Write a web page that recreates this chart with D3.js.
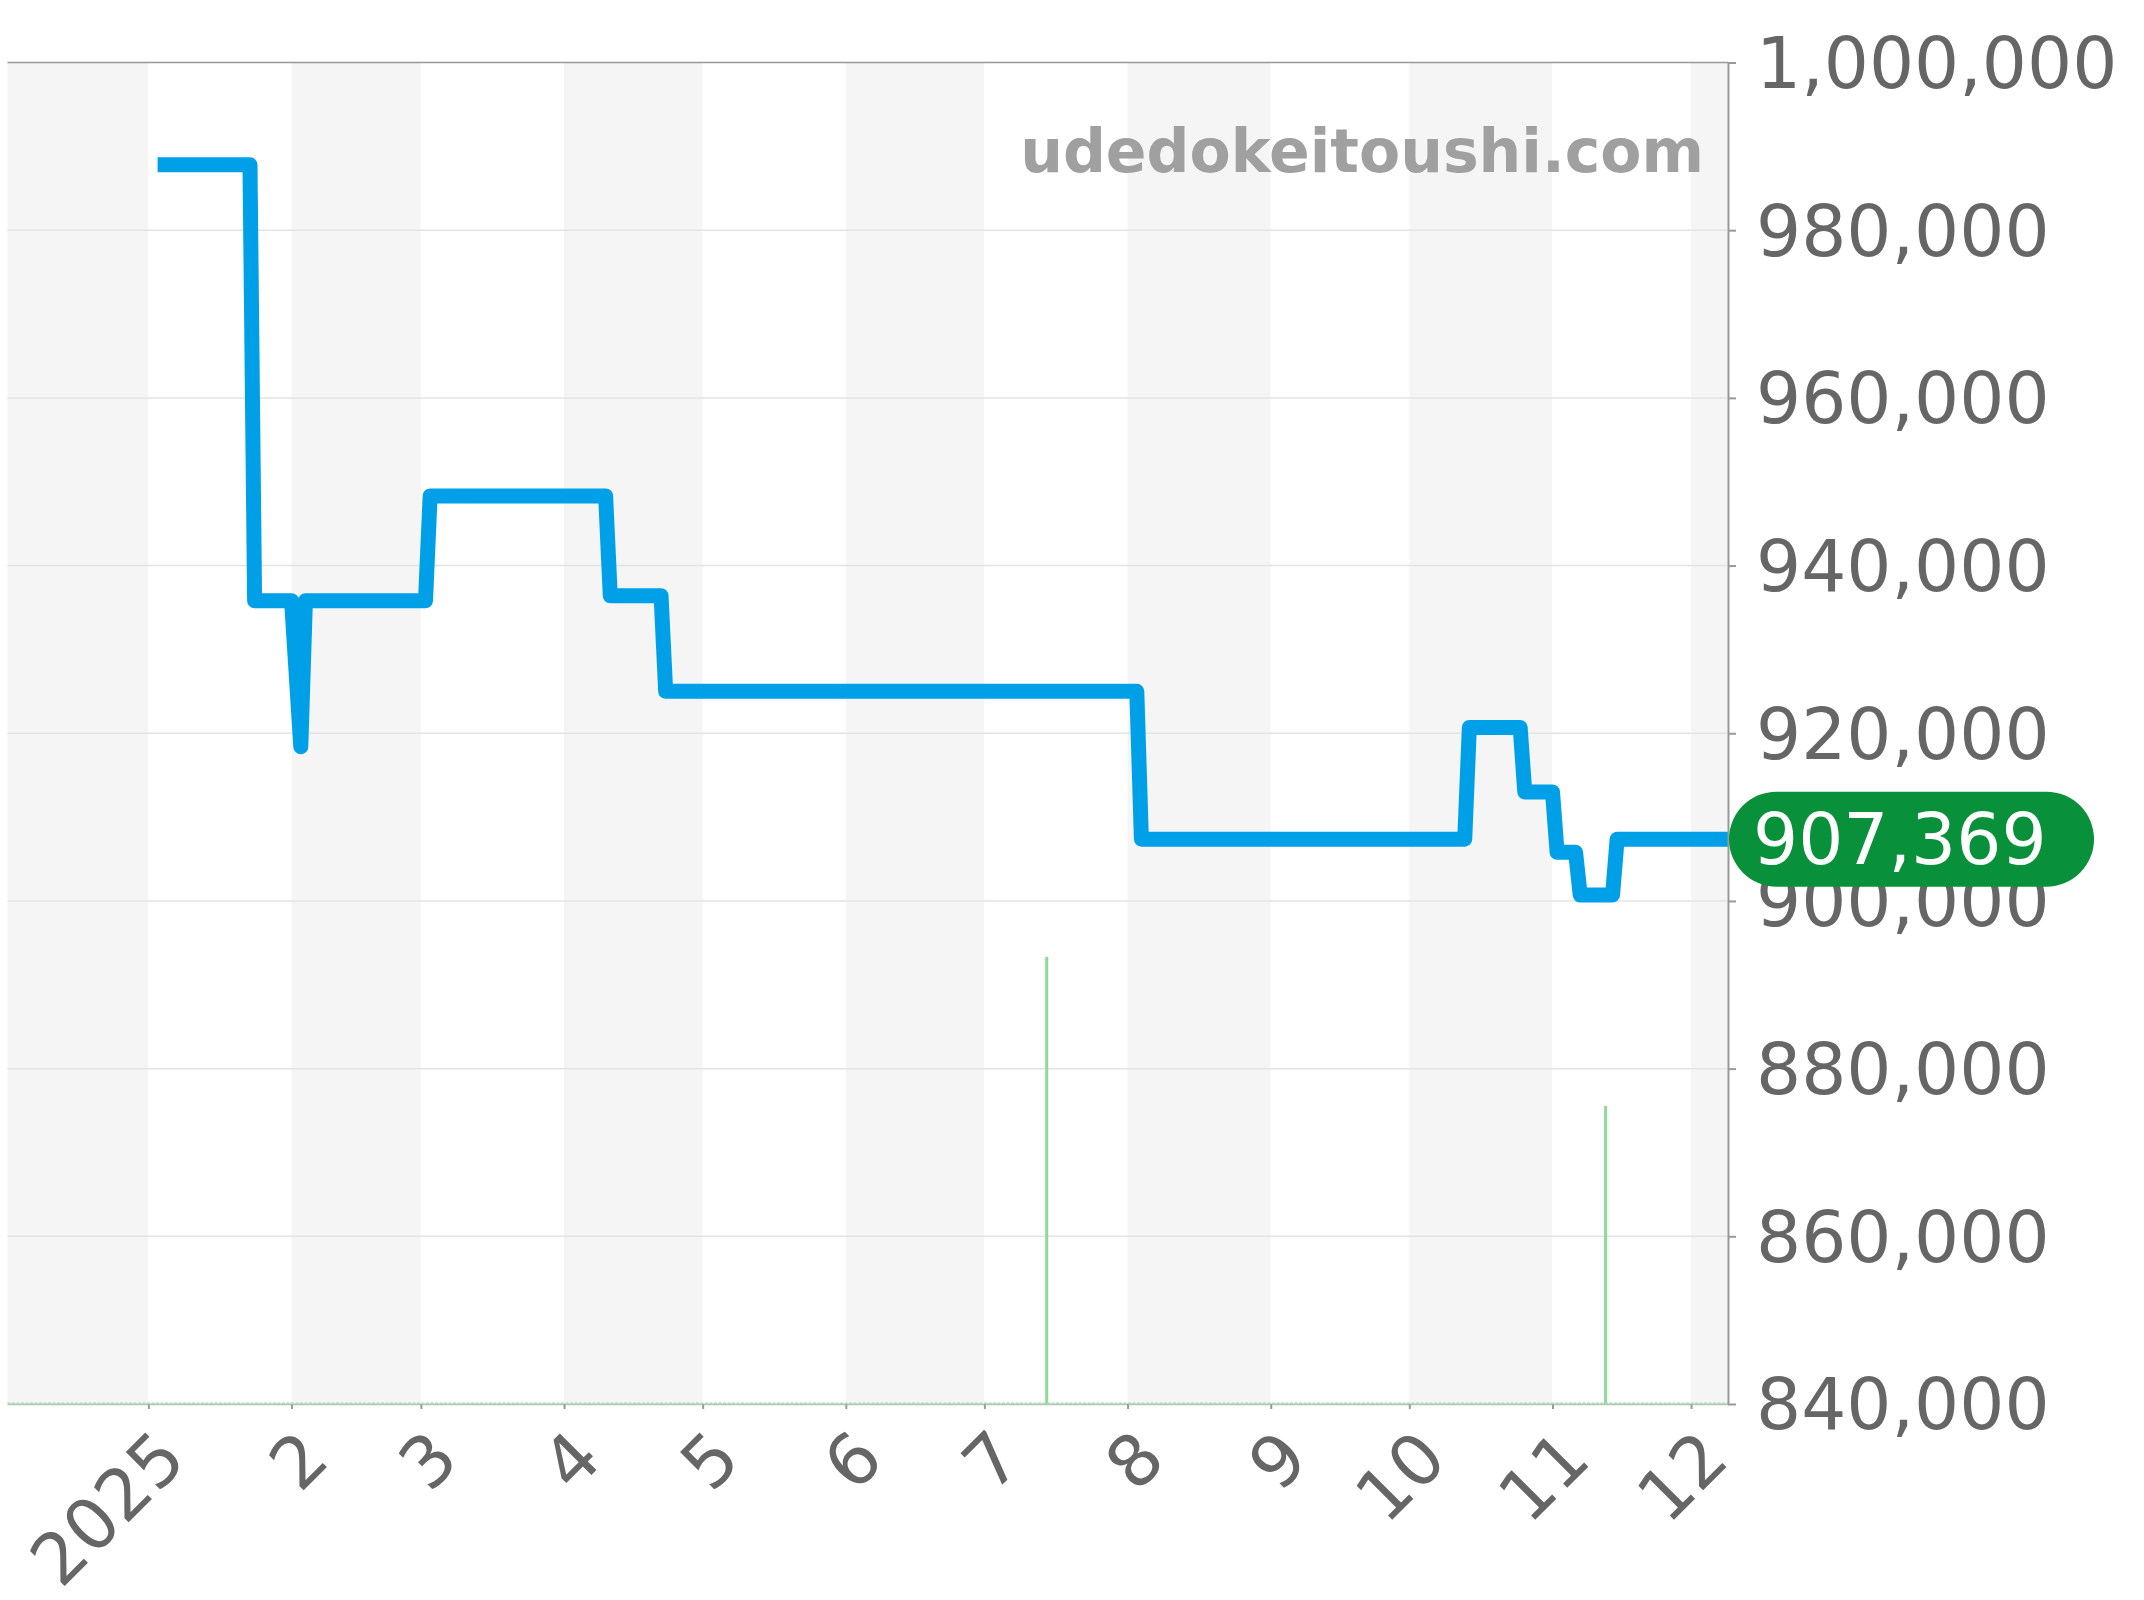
<!DOCTYPE html>
<html>
<head>
<meta charset="utf-8">
<script src="https://cdn.jsdelivr.net/npm/d3@7"></script>
<style>
  body { margin: 0; background: #fff; }
  text { font-family: "DejaVu Sans", sans-serif; }
</style>
</head>
<body>
<svg id="chart" width="2144" height="1600"></svg>
<script>
// price series (step changes)
const priceDates = [
  "2025-01-03", "2025-01-23", "2025-01-24", "2025-02-01", "2025-02-03", "2025-02-04",
  "2025-03-02", "2025-03-03", "2025-04-10", "2025-04-11", "2025-04-22", "2025-04-23",
  "2025-08-03", "2025-08-04", "2025-10-13", "2025-10-14", "2025-10-25", "2025-10-26",
  "2025-11-01", "2025-11-02", "2025-11-06", "2025-11-07", "2025-11-14", "2025-11-15",
  "2025-12-09"
];
const priceValues = [
  987800, 987800, 935800, 935800, 918400, 935800,
  935800, 948300, 948300, 936400, 936400, 925000,
  925000, 907369, 907369, 920700, 920700, 913000,
  913000, 905800, 905800, 900700, 900700, 907369,
  907369
];

// green volume bars
const volumeDates = ["2025-07-14", "2025-11-12"];
const volumeValues = [3, 2];

const yTicks = [840000, 860000, 880000, 900000, 920000, 940000, 960000, 980000, 1000000];
const monthLabels = ["2025", "2", "3", "4", "5", "6", "7", "8", "9", "10", "11", "12"];
const lastPrice = 907369;

const width = 2144, height = 1600;
const plot = { left: 7.5, right: 1728, top: 62.5, bottom: 1404 };

const parse = d3.timeParse("%Y-%m-%d");
const price = priceDates.map((d, i) => ({ date: parse(d), value: priceValues[i] }));
const volume = volumeDates.map((d, i) => ({ date: parse(d), value: volumeValues[i] }));

const x = d3.scaleTime()
  .domain([new Date(2024, 11, 1, 12), new Date(2025, 11, 9)])
  .range([plot.left, plot.right]);
const y = d3.scaleLinear()
  .domain([840000, 1000000])
  .range([plot.bottom, plot.top]);
const y2 = d3.scaleLinear()
  .domain([0, 9])
  .range([plot.bottom, plot.top]);

const svg = d3.select("#chart");

// alternating month bands
const months = d3.timeMonth.range(new Date(2024, 11, 1), new Date(2025, 11, 2));
svg.append("g").attr("class", "bands")
  .selectAll("rect")
  .data(months)
  .enter()
  .append("rect")
  .attr("x", d => Math.max(x(d), plot.left))
  .attr("y", plot.top)
  .attr("width", d => Math.min(x(d3.timeMonth.offset(d, 1)), plot.right) - Math.max(x(d), plot.left))
  .attr("height", plot.bottom - plot.top)
  .attr("fill", d => d.getMonth() % 2 === 1 ? "#f5f5f5" : "#ffffff");

// horizontal grid
svg.append("g").attr("class", "grid")
  .selectAll("line")
  .data(yTicks.slice(0, -1))
  .enter()
  .append("line")
  .attr("x1", plot.left)
  .attr("x2", plot.right)
  .attr("y1", d => y(d))
  .attr("y2", d => y(d))
  .attr("stroke", "#e3e3e3")
  .attr("stroke-width", 1.5);

// top border
svg.append("line")
  .attr("x1", plot.left).attr("x2", plot.right)
  .attr("y1", plot.top).attr("y2", plot.top)
  .attr("stroke", "#999").attr("stroke-width", 1.5);

// volume bars
const halfDay = x(new Date(2025, 0, 2)) - x(new Date(2025, 0, 1));
svg.append("g").attr("class", "volume")
  .selectAll("rect")
  .data(volume)
  .enter()
  .append("rect")
  .attr("x", d => x(d.date) + halfDay / 2 - 1.5)
  .attr("y", d => y2(d.value))
  .attr("width", 3)
  .attr("height", d => y2(0) - y2(d.value))
  .attr("fill", "#8fd99b");

// price line
svg.append("path")
  .datum(price)
  .attr("fill", "none")
  .attr("stroke", "#00a0e9")
  .attr("stroke-width", 15)
  .attr("stroke-linejoin", "round")
  .attr("stroke-linecap", "butt")
  .attr("d", d3.line().x(d => x(d.date)).y(d => y(d.value)));

// x axis
const xAxis = d3.axisBottom(x)
  .tickValues(d3.timeMonth.range(new Date(2025, 0, 1), new Date(2025, 11, 2)))
  .tickFormat((d, i) => monthLabels[i])
  .tickSize(5)
  .tickSizeOuter(0);

const gx = svg.append("g")
  .attr("class", "axis x")
  .attr("transform", `translate(0,${plot.bottom})`)
  .call(xAxis);
gx.select(".domain").attr("stroke", "#bbb").attr("stroke-width", 1.5);
gx.selectAll(".tick line").attr("stroke", "#999").attr("stroke-width", 2);
gx.selectAll(".tick text")
  .attr("x", 0).attr("y", 0).attr("dy", 0)
  .attr("text-anchor", "end")
  .attr("transform", "translate(40,58) rotate(-45)")
  .attr("fill", "#666")
  .style("font-family", "DejaVu Sans")
  .style("font-size", "71px");

// zero-volume baseline (green dashes)
svg.append("line")
  .attr("x1", plot.left).attr("x2", plot.right)
  .attr("y1", plot.bottom - 0.5).attr("y2", plot.bottom - 0.5)
  .attr("stroke", "#a3e0ad")
  .attr("stroke-width", 2)
  .attr("stroke-dasharray", "3,1.5");

// y axis on the right
const yAxis = d3.axisRight(y)
  .tickValues(yTicks)
  .tickFormat(d3.format(","))
  .tickSize(8)
  .tickSizeOuter(0)
  .tickPadding(20);

const gy = svg.append("g")
  .attr("class", "axis y")
  .attr("transform", `translate(${plot.right},0)`)
  .call(yAxis);
gy.select(".domain").attr("stroke", "#999").attr("stroke-width", 2);
gy.selectAll(".tick line").attr("stroke", "#999").attr("stroke-width", 2);
gy.selectAll(".tick text")
  .attr("dy", "0.35em")
  .attr("fill", "#666")
  .style("font-family", "DejaVu Sans")
  .style("font-size", "71px");

// watermark
svg.append("text")
  .attr("x", 1704)
  .attr("y", 172)
  .attr("text-anchor", "end")
  .attr("fill", "#a0a0a0")
  .style("font-weight", "bold")
  .style("font-size", "60px")
  .text("udedokeitoushi.com");

// current price badge
const badge = svg.append("g")
  .attr("transform", `translate(${plot.right + 1},${y(lastPrice)})`);
badge.append("rect")
  .attr("x", 0)
  .attr("y", -47.5)
  .attr("width", 365)
  .attr("height", 95)
  .attr("rx", 47.5)
  .attr("fill", "#08913a");
badge.append("text")
  .attr("x", 24)
  .attr("dy", "0.35em")
  .attr("fill", "#fff")
  .style("font-size", "71px")
  .text(d3.format(",")(lastPrice));
</script>
</body>
</html>
